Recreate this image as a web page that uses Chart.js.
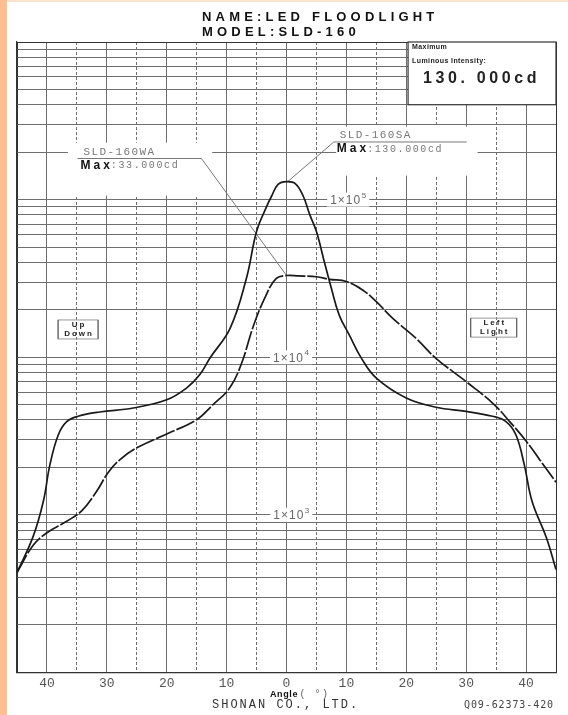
<!DOCTYPE html>
<html>
<head>
<meta charset="utf-8">
<script src="https://cdn.jsdelivr.net/npm/chart.js@4.4.1/dist/chart.umd.min.js"></script>
<style>
  html, body { margin: 0; padding: 0; background: #fff; }
  #wrap { width: 568px; height: 715px; }
</style>
</head>
<body>
<div id="wrap"><canvas id="chart" width="568" height="715"></canvas></div>
<script>
// luminous intensity (cd) against angle (deg)
const saAngles = [-45, -42.3, -40.6, -39.5, -38.1, -36.7, -34.8, -31.2, -25.6, -20,
  -16.7, -14.5, -12.8, -9.4, -6.7, -5, -3.4, -2.5, -1.4, 0,
  1.5, 2.8, 3.9, 5, 6.3, 7.5, 8.8, 10.5, 12.5, 15,
  20, 25, 30, 34.4, 36.6, 38.3, 39.7, 41, 43.4, 45]
const saValues = [430, 730, 1220, 2080, 3220, 3900, 4220, 4490, 4760, 5370,
  6370, 7730, 9860, 15300, 31600, 62700, 89000, 105000, 125000, 130000,
  126000, 105000, 80000, 62700, 40500, 27300, 18500, 13800, 9860, 7370,
  5510, 4810, 4530, 4220, 3920, 3220, 2080, 1220, 715, 450]

const waAngles = [-45, -42.3, -40, -36.7, -34.2, -31.7, -29.8, -27.8, -25, -20,
  -15, -12.3, -9.5, -7.5, -5.5, -3.4, -1.7, 0, 2, 5,
  7.2, 10, 12.7, 15, 17.7, 21.6, 25, 30, 34.5, 37.3,
  40.1, 42.3, 45]
const waValues = [430, 640, 770, 910, 1060, 1410, 1850, 2240, 2660, 3260,
  4010, 4990, 6370, 9160, 15900, 24800, 31600, 33000, 32800, 32400,
  31200, 30200, 26700, 22500, 17700, 13200, 9800, 7000, 5080, 3890,
  2910, 2230, 1610]

const angleLabels = [-40, -30, -20, -10, 0, 10, 20, 30, 40]
const decades = [1e2, 1e3, 1e4, 1e5]
const decadeSteps = [1, 2, 3, 4, 5, 6, 7, 8, 9]
const yGrid = decades.flatMap(d => decadeSteps.map(s => s * d)).concat([1e6])

const modelName = "NAME:LED FLOODLIGHT"
const modelCode = "MODEL:SLD-160"
const saName = "SLD-160SA"
const waName = "SLD-160WA"
const saMax = ":130.000cd"
const waMax = ":33.000cd"

const toPoints = (xs, ys) => xs.map((a, i) => ({ x: a, y: ys[i] }))

// draw text one glyph at a time so the wide letter spacing of the sheet can be kept
function spaced(ctx, text, x, y, gap) {
  let cx = x
  for (const ch of text) {
    ctx.fillText(ch, cx, y)
    cx += ctx.measureText(ch).width + gap
  }
  return cx - gap
}

function spacedWidth(ctx, text, gap) {
  let w = 0
  for (const ch of text) w += ctx.measureText(ch).width + gap
  return w - gap
}

const sheetDecor = {
  id: "sheetDecor",
  beforeDraw(chart) {
    const { ctx, width, height } = chart
    ctx.save()
    ctx.fillStyle = "#fff"
    ctx.fillRect(0, 0, width, height)
    ctx.fillStyle = "#fdbf8f"
    ctx.fillRect(0, 0, 7, height)
    ctx.fillStyle = "#fde3ce"
    ctx.fillRect(7, 0, width - 7, 2)
    ctx.restore()
  },
  beforeDatasetsDraw(chart) {
    const { ctx, chartArea: a, scales: { x, y } } = chart
    const X = v => x.getPixelForValue(v)
    const Y = v => y.getPixelForValue(v)
    ctx.save()
    ctx.textBaseline = "middle"
    ctx.textAlign = "left"

    // blank patches under the curve labels
    ctx.fillStyle = "#fff"
    ctx.fillRect(X(-36.5), Y(2.3e5), X(-12.4) - X(-36.5), Y(1.06e5) - Y(2.3e5))
    ctx.fillRect(X(8.3), Y(2.9e5), X(31.9) - X(8.3), Y(1.42e5) - Y(2.9e5))

    // maximum intensity box, top right
    const bx = X(20.3), by = a.top, bw = a.right - bx, bh = Y(4e5) - a.top
    ctx.fillRect(bx, by, bw, bh)
    ctx.strokeStyle = "#333"
    ctx.lineWidth = 1.2
    ctx.strokeRect(bx, by, bw, bh)
    ctx.fillStyle = "#222"
    ctx.font = 'bold 7px "Liberation Sans Narrow", "Liberation Sans"'
    spaced(ctx, "Maximum", bx + 4, by + 5, 0.4)
    spaced(ctx, "Luminous Intensity:", bx + 4, by + 19, 0.4)
    ctx.font = 'bold 16px "Liberation Sans"'
    spaced(ctx, "130. 000cd", bx + 15, by + 37, 3.6)

    // decade labels sitting on the grid
    const decadeMarks = [[1e5, 10.3, "5"], [1e4, 0.75, "4"], [1e3, 0.8, "3"]]
    decadeMarks.forEach(([v, ang, exp]) => {
      ctx.font = '12px "Liberation Sans"'
      const w = spacedWidth(ctx, "1×10", 1) + 6
      const cx = X(ang), cy = Y(v)
      ctx.fillStyle = "#fff"
      ctx.fillRect(cx - w / 2 - 3, cy - 7, w + 6, 14)
      ctx.fillStyle = "#666"
      const end = spaced(ctx, "1×10", cx - w / 2, cy + 1, 1)
      ctx.font = '8px "Liberation Sans"'
      ctx.fillText(exp, end + 1.5, cy - 4)
    })

    // curve labels with leader lines to the peaks
    const saPeak = saValues[saAngles.indexOf(0)]
    const waPeak = waValues[waAngles.indexOf(0)]
    ctx.strokeStyle = "#777"
    ctx.lineWidth = 1
    const sy = Y(2.32e5)
    ctx.beginPath()
    ctx.moveTo(X(0), Y(saPeak) + 1)
    ctx.lineTo(X(7.9), sy)
    ctx.lineTo(X(30.1), sy)
    ctx.stroke()
    const wy = Y(1.823e5)
    ctx.beginPath()
    ctx.moveTo(X(-34.9), wy)
    ctx.lineTo(X(-14.2), wy)
    ctx.lineTo(X(0), Y(waPeak))
    ctx.stroke()

    const nameFont = '11px "Liberation Mono"'
    const maxFont = 'bold 12px "Liberation Sans"'
    const valFont = '10px "Liberation Mono"'
    ;[[saName, saMax, X(7.9), sy], [waName, waMax, X(-34.9), wy]].forEach(([nm, mx, lx, ly]) => {
      ctx.fillStyle = "#777"
      ctx.font = nameFont
      spaced(ctx, nm, lx + 6, ly - 6.5, 1.4)
      ctx.fillStyle = "#111"
      ctx.font = maxFont
      const end = spaced(ctx, "Max", lx + 3, ly + 7, 3)
      ctx.fillStyle = "#777"
      ctx.font = valFont
      spaced(ctx, mx, end + 1, ly + 7, 1.6)
    })

    // direction tags
    const tag = (ang, v, w, l1, l2) => {
      const cx = X(ang), cy = Y(v), h = 19
      ctx.strokeStyle = "#999"
      ctx.lineWidth = 1
      ctx.strokeRect(cx - w / 2, cy - h / 2, w, h)
      ctx.strokeStyle = "#555"
      ctx.beginPath()
      ctx.moveTo(cx - w / 2, cy - h / 2); ctx.lineTo(cx - w / 2, cy + h / 2)
      ctx.moveTo(cx + w / 2, cy - h / 2); ctx.lineTo(cx + w / 2, cy + h / 2)
      ctx.stroke()
      ctx.fillStyle = "#222"
      ctx.font = 'bold 8px "Liberation Sans"'
      ;[[l1, -4.5], [l2, 4.5]].forEach(([t, dy]) => {
        const tw = spacedWidth(ctx, t, 2)
        spaced(ctx, t, cx - tw / 2, cy + dy, 2)
      })
    }
    tag(-34.8, 15000, 40, "Up", "Down")
    tag(34.6, 15400, 46, "Left", "Light")
    ctx.restore()
  },
  afterDraw(chart) {
    const { ctx, chartArea: a } = chart
    ctx.save()
    ctx.textBaseline = "middle"
    ctx.textAlign = "left"
    ctx.fillStyle = "#111"
    ctx.font = 'bold 13px "Liberation Sans"'
    spaced(ctx, modelName, 202, 17, 4.2)
    spaced(ctx, modelCode, 202, 32, 4.2)

    ctx.font = 'bold 9px "Liberation Sans"'
    const end = spaced(ctx, "Angle", 270, a.bottom + 22, 0.6)
    ctx.fillStyle = "#666"
    ctx.font = '10px "Liberation Mono"'
    spaced(ctx, "( °)", end + 2, a.bottom + 22, 1.5)

    ctx.fillStyle = "#333"
    ctx.font = '12px "Liberation Mono"'
    spaced(ctx, "SHONAN CO., LTD.", 212, a.bottom + 32, 2)
    ctx.fillStyle = "#444"
    ctx.font = '10px "DejaVu Sans Mono"'
    spaced(ctx, "Q09-62373-420", 464, a.bottom + 33, 0.9)
    ctx.restore()
  }
}

const frameColor = "#333"
const gridColor = "#6e6e6e"

new Chart(document.getElementById("chart"), {
  type: "line",
  data: {
    datasets: [
      {
        label: saName,
        data: toPoints(saAngles, saValues),
        borderColor: "#1a1a1a",
        borderWidth: 1.7,
        pointRadius: 0,
        tension: 0.4,
        fill: false
      },
      {
        label: waName,
        data: toPoints(waAngles, waValues),
        borderColor: "#1a1a1a",
        borderWidth: 1.7,
        borderDash: [20, 2],
        pointRadius: 0,
        tension: 0.4,
        fill: false
      }
    ]
  },
  options: {
    responsive: false,
    animation: false,
    events: [],
    layout: { padding: { left: 17, right: 12, top: 42, bottom: 21 } },
    scales: {
      x: {
        type: "linear",
        min: -45,
        max: 45,
        ticks: {
          stepSize: 5,
          autoSkip: false,
          maxRotation: 0,
          padding: 3,
          color: "#555",
          font: { family: "Liberation Mono", size: 13 },
          callback: v => angleLabels.includes(v) ? String(Math.abs(v)) : ""
        },
        grid: {
          drawTicks: false,
          lineWidth: 1,
          color: ctx => (ctx.tick && Math.abs(ctx.tick.value) === 45) ? frameColor : gridColor
        },
        border: {
          display: true,
          color: frameColor,
          width: 1.2,
          dash: ctx => (ctx.tick && Math.abs(ctx.tick.value) % 10 === 5 && Math.abs(ctx.tick.value) !== 45) ? [3, 2] : []
        }
      },
      y: {
        type: "logarithmic",
        min: 100,
        max: 1e6,
        afterBuildTicks: scale => { scale.ticks = yGrid.map(v => ({ value: v })) },
        ticks: { display: false },
        grid: {
          drawTicks: false,
          lineWidth: 1,
          color: ctx => (ctx.tick && (ctx.tick.value === 1e6 || ctx.tick.value === 100)) ? frameColor : gridColor
        },
        border: { display: true, color: frameColor, width: 1.2 }
      }
    },
    plugins: {
      legend: { display: false },
      tooltip: { enabled: false },
      title: { display: false }
    }
  },
  plugins: [sheetDecor]
})
</script>
</body>
</html>
